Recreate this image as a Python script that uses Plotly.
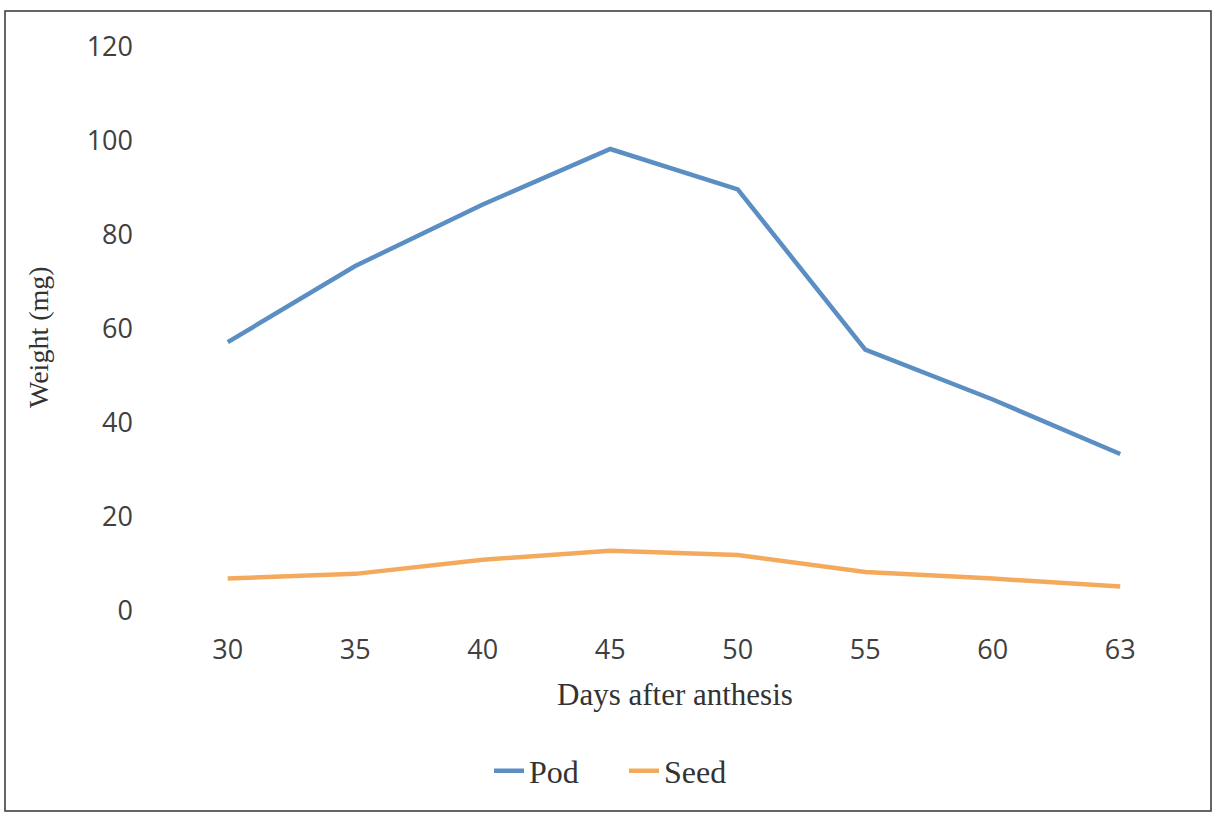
import plotly.graph_objects as go

days = ["30", "35", "40", "45", "50", "55", "60", "63"]
pod = [57.2, 73.4, 86.5, 98.3, 89.7, 55.6, 45.0, 33.4]
seed = [6.9, 7.9, 10.9, 12.8, 11.9, 8.3, 6.9, 5.2]

W, H = 1216, 814
L, R, T, B = 164, 1184, 47, 611

def px(x):
    return (x - L) / (R - L)

def py(y):
    return (B - y) / (B - T)

fig = go.Figure()
fig.add_trace(go.Scatter(x=days, y=pod, mode="lines", name="Pod",
                         line=dict(color="#5B8FC3", width=4.5)))
fig.add_trace(go.Scatter(x=days, y=seed, mode="lines", name="Seed",
                         line=dict(color="#F4AA5C", width=4.5)))

fig.update_layout(
    width=W, height=H,
    margin=dict(l=L, r=W - R, t=T, b=H - B),
    plot_bgcolor="white", paper_bgcolor="white",
    showlegend=True,
    legend=dict(orientation="h", x=px(624), y=py(771), xanchor="center", yanchor="middle",
                font=dict(family="Liberation Serif", size=32, color="#333"),
                entrywidth=90, entrywidthmode="pixels", tracegroupgap=0),
    xaxis=dict(type="category", range=[-0.5, 7.5], showgrid=False, showline=False,
               zeroline=False, ticks="",
               tickfont=dict(family="Open Sans", size=27, color="#404040"),
               ticklabelstandoff=20),
    yaxis=dict(range=[0, 120], dtick=20, showgrid=False, showline=False, zeroline=False,
               ticks="", tickfont=dict(family="Open Sans", size=27, color="#404040"),
               ticklabelstandoff=30),
    annotations=[
        dict(text="Weight (mg)", textangle=-90, xref="paper", yref="paper",
             x=px(38), y=py(337), xanchor="center", yanchor="middle", showarrow=False,
             font=dict(family="Liberation Serif", size=28, color="#333")),
        dict(text="Days after anthesis", xref="paper", yref="paper",
             x=px(675), y=py(694), xanchor="center", yanchor="middle", showarrow=False,
             font=dict(family="Liberation Serif", size=31, color="#333")),
    ],
    shapes=[
        dict(type="rect", xref="paper", yref="paper",
             x0=px(5), x1=px(1211), y0=py(811), y1=py(11),
             line=dict(color="#333", width=1.5)),
    ],
)

fig.write_html("out.html")
